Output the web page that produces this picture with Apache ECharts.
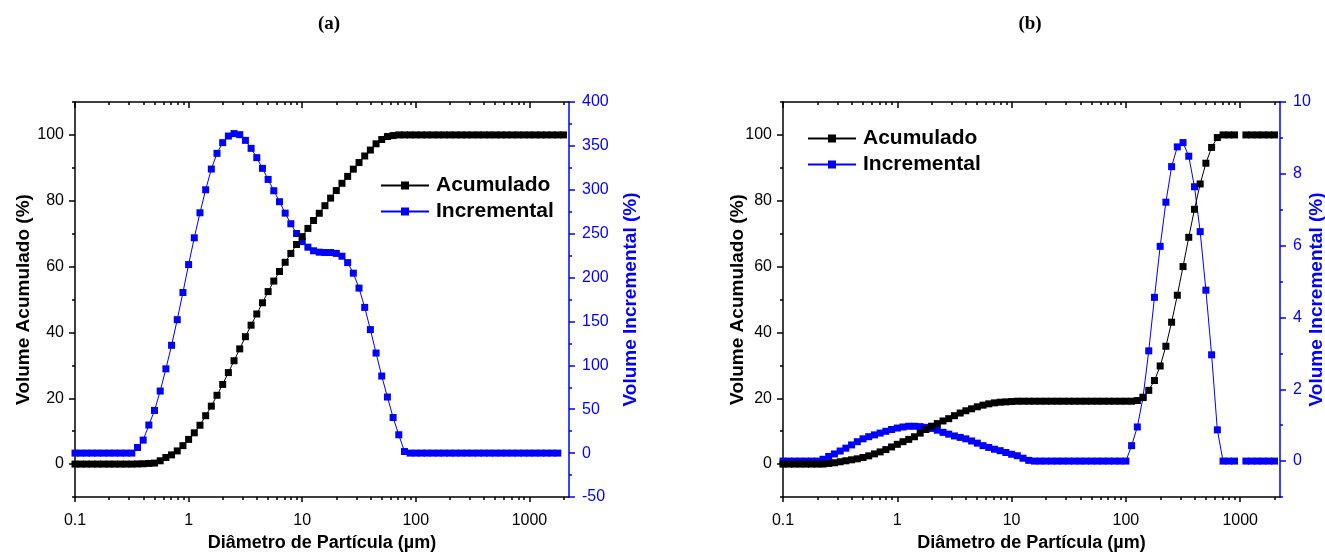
<!DOCTYPE html>
<html><head><meta charset="utf-8">
<script src="https://cdn.jsdelivr.net/npm/echarts@6/dist/echarts.min.js"></script>
<style>html,body{margin:0;padding:0;background:#fff}#c{width:1325px;height:552px}</style>
</head><body><div id="c"></div>
<script>
// particle diameters (µm), shared by both panels
const diameters = [0.1, 0.1122, 0.1259, 0.1413, 0.1585, 0.1778, 0.1995, 0.2239, 0.2512, 0.2818,
  0.3162, 0.3548, 0.3981, 0.4467, 0.5012, 0.5623, 0.6310, 0.7079, 0.7943, 0.8913,
  1.0, 1.122, 1.259, 1.413, 1.585, 1.778, 1.995, 2.239, 2.512, 2.818,
  3.162, 3.548, 3.981, 4.467, 5.012, 5.623, 6.310, 7.079, 7.943, 8.913,
  10.0, 11.22, 12.59, 14.13, 15.85, 17.78, 19.95, 22.39, 25.12, 28.18,
  31.62, 35.48, 39.81, 44.67, 50.12, 56.23, 63.10, 70.79, 79.43, 89.13,
  100.0, 112.2, 125.9, 141.3, 158.5, 177.8, 199.5, 223.9, 251.2, 281.8,
  316.2, 354.8, 398.1, 446.7, 501.2, 562.3, 631.0, 707.9, 794.3, 891.3,
  1000, 1122, 1259, 1413, 1585, 1778, 1995];

// panel (a)
const accA = [0, 0, 0, 0, 0, 0, 0, 0, 0, 0,
  0, 0.05, 0.1, 0.2, 0.3, 1.0, 2.0, 2.8, 4.0, 5.6,
  7.5, 9.5, 11.8, 14.7, 17.6, 20.9, 24.2, 27.8, 31.4, 35.0,
  38.7, 42.2, 45.6, 49.0, 52.4, 55.6, 58.5, 61.3, 64.0, 66.7,
  69.1, 71.6, 74.0, 76.2, 78.5, 80.8, 83.1, 85.3, 87.4, 89.6,
  91.6, 93.6, 95.4, 97.3, 98.6, 99.5, 99.8, 100, 100, 100,
  100, 100, 100, 100, 100, 100, 100, 100, 100, 100,
  100, 100, 100, 100, 100, 100, 100, 100, 100, 100,
  100, 100, 100, 100, 100, 100, 100];
const incA = [0, 0, 0, 0, 0, 0, 0, 0, 0, 0,
  0, 6.4, 14.8, 32, 48.6, 70.7, 96, 122.8, 152, 183,
  214.8, 245.3, 273.8, 300, 323.6, 341.5, 353.7, 361.2, 364, 362.8,
  356.3, 347.2, 336.6, 324.4, 311.8, 298.9, 286.4, 273.4, 261.3, 250.2,
  241, 234.6, 230.5, 228.9, 228.5, 228.5, 227.5, 224.3, 217, 205,
  188, 166, 140.7, 114, 87.8, 63.9, 40.6, 20.9, 1.8, 0,
  0, 0, 0, 0, 0, 0, 0, 0, 0, 0,
  0, 0, 0, 0, 0, 0, 0, 0, 0, 0,
  0, 0, 0, 0, 0, 0, null];

// panel (b)
const accB = [0, 0, 0, 0, 0, 0, 0, 0, 0.2, 0.4,
  0.7, 1.0, 1.3, 1.6, 2.0, 2.5, 3.1, 3.7, 4.4, 5.2,
  6.0, 6.8, 7.5, 8.3, 9.4, 10.5, 11.5, 12.3, 13.1, 13.8,
  14.7, 15.5, 16.2, 16.8, 17.4, 17.9, 18.3, 18.6, 18.8, 18.9,
  19.0, 19.1, 19.1, 19.1, 19.1, 19.1, 19.1, 19.1, 19.1, 19.1,
  19.1, 19.1, 19.1, 19.1, 19.1, 19.1, 19.1, 19.1, 19.1, 19.1,
  19.1, 19.1, 19.3, 20.2, 22.4, 25.4, 29.8, 35.8, 43.1, 51.3,
  60.0, 68.9, 77.4, 85.1, 91.4, 96.2, 99.2, 100, 100, 100,
  null, 100, 100, 100, 100, 100, 100];
const incB = [0, 0, 0, 0, 0, 0, 0, 0.05, 0.13, 0.2,
  0.28, 0.36, 0.45, 0.54, 0.62, 0.68, 0.73, 0.78, 0.83, 0.88,
  0.92, 0.95, 0.97, 0.97, 0.96, 0.94, 0.91, 0.86, 0.80, 0.75,
  0.70, 0.66, 0.62, 0.56, 0.50, 0.43, 0.38, 0.33, 0.29, 0.24,
  0.19, 0.15, 0.08, 0.02, 0, 0, 0, 0, 0, 0,
  0, 0, 0, 0, 0, 0, 0, 0, 0, 0,
  0, 0.43, 0.95, 1.78, 3.07, 4.56, 5.98, 7.21, 8.2, 8.75,
  8.87, 8.49, 7.64, 6.39, 4.76, 2.96, 0.87, 0, 0, 0,
  null, 0, 0, 0, 0, 0, 0];

// tick labels
const xMajor = [0.1, 1, 10, 100, 1000];
const xMinor = [0.2, 0.3, 0.4, 0.5, 0.6, 0.7, 0.8, 0.9, 2, 3, 4, 5, 6, 7, 8, 9,
  20, 30, 40, 50, 60, 70, 80, 90, 200, 300, 400, 500, 600, 700, 800, 900, 2000];
const leftMajor = [0, 20, 40, 60, 80, 100];
const leftMinor = [-10, 10, 30, 50, 70, 90, 110];
const rightAMajor = [-50, 0, 50, 100, 150, 200, 250, 300, 350, 400];
const rightAMinor = [-25, 25, 75, 125, 175, 225, 275, 325, 375];
const rightBMajor = [0, 2, 4, 6, 8, 10];
const rightBMinor = [-1, 1, 3, 5, 7, 9];

const FONT = '"Liberation Sans", Arial, sans-serif';
const BLUE = '#0000ff';
const XMAX = 2230;

function pairs(vals) { return diameters.map((d, i) => [d, vals[i]]); }

function xAxes(g) {
  const base = { gridIndex: g, type: 'log', logBase: 10, min: 0.1, max: XMAX, splitLine: { show: false }, minorTick: { show: false } };
  return [
    Object.assign({}, base, {
      position: 'bottom',
      axisLine: { show: true, onZero: false, lineStyle: { color: '#000', width: 1.5 } },
      axisTick: { show: true, customValues: xMajor, length: 5, inside: false, lineStyle: { color: '#000', width: 1.5 } },
      axisLabel: { show: true, customValues: xMajor, color: '#000', fontSize: 16, fontFamily: FONT, margin: 16,
        formatter: v => String(parseFloat(Number(v).toPrecision(4))) },
      name: 'Diâmetro de Partícula (µm)', nameLocation: 'middle', nameGap: 37, nameMoveOverlap: false,
      nameTextStyle: { color: '#000', fontSize: 18, fontWeight: 'bold', fontFamily: FONT }
    }),
    Object.assign({}, base, {
      position: 'bottom', axisLine: { show: false, onZero: false },
      axisTick: { show: true, customValues: xMinor, length: 3, lineStyle: { color: '#000', width: 1.5 } },
      axisLabel: { show: false }
    }),
    Object.assign({}, base, {
      position: 'top',
      axisLine: { show: true, onZero: false, lineStyle: { color: '#000', width: 1.5 } },
      axisTick: { show: true, customValues: xMajor, length: 6, inside: true, lineStyle: { color: '#000', width: 1.5 } },
      axisLabel: { show: false }
    }),
    Object.assign({}, base, {
      position: 'top', axisLine: { show: false, onZero: false },
      axisTick: { show: true, customValues: xMinor, length: 3, inside: true, lineStyle: { color: '#000', width: 1.5 } },
      axisLabel: { show: false }
    })
  ];
}

function yAxes(g, rMin, rMax, rMajor, rMinor, leftGap, rightGap) {
  const lbase = { gridIndex: g, type: 'value', min: -10, max: 110, position: 'left', splitLine: { show: false } };
  const rbase = { gridIndex: g, type: 'value', min: rMin, max: rMax, position: 'right', splitLine: { show: false } };
  return [
    Object.assign({}, lbase, {
      axisLine: { show: true, onZero: false, lineStyle: { color: '#000', width: 1.5 } },
      axisTick: { show: true, customValues: leftMajor, length: 6, lineStyle: { color: '#000', width: 1.5 } },
      axisLabel: { show: true, customValues: leftMajor, color: '#000', fontSize: 16, fontFamily: FONT, margin: 11 },
      name: 'Volume Acumulado (%)', nameLocation: 'middle', nameGap: leftGap, nameMoveOverlap: false,
      nameTextStyle: { color: '#000', fontSize: 19, fontWeight: 'bold', fontFamily: FONT }
    }),
    Object.assign({}, lbase, {
      axisLine: { show: false, onZero: false },
      axisTick: { show: true, customValues: leftMinor, length: 3, lineStyle: { color: '#000', width: 1.5 } },
      axisLabel: { show: false }
    }),
    Object.assign({}, rbase, {
      axisLine: { show: true, onZero: false, lineStyle: { color: BLUE, width: 1.5 } },
      axisTick: { show: true, customValues: rMajor, length: 6, lineStyle: { color: BLUE, width: 1.5 } },
      axisLabel: { show: true, customValues: rMajor, color: BLUE, fontSize: 16, fontFamily: FONT, margin: 13 },
      name: 'Volume Incremental (%)', nameLocation: 'middle', nameGap: rightGap, nameMoveOverlap: false,
      nameTextStyle: { color: BLUE, fontSize: 19, fontWeight: 'bold', fontFamily: FONT }
    }),
    Object.assign({}, rbase, {
      axisLine: { show: false, onZero: false },
      axisTick: { show: true, customValues: rMinor, length: 3, lineStyle: { color: BLUE, width: 1.5 } },
      axisLabel: { show: false }
    })
  ];
}

function seriesFor(g, acc, inc) {
  const common = { type: 'line', symbol: 'rect', symbolSize: 7, showAllSymbol: true, connectNulls: false,
    animation: false, emphasis: { disabled: true }, xAxisIndex: 4 * g };
  return [
    Object.assign({}, common, { name: 'Acumulado', yAxisIndex: 4 * g, data: pairs(acc),
      lineStyle: { color: '#000', width: 1 }, itemStyle: { color: '#000' }, z: 3 }),
    Object.assign({}, common, { name: 'Incremental', yAxisIndex: 4 * g + 2, data: pairs(inc),
      lineStyle: { color: BLUE, width: 1 }, itemStyle: { color: BLUE }, z: 2 })
  ];
}

const legendCommon = { orient: 'vertical', itemWidth: 48, itemHeight: 10, itemGap: 5, selectedMode: false,
  data: ['Acumulado', 'Incremental'],
  textStyle: { fontSize: 21, fontWeight: 'bold', fontFamily: FONT, color: '#000', lineHeight: 21, padding: [0, 0, 0, 2] } };

const option = {
  backgroundColor: '#fff',
  animation: false,
  grid: [
    { left: 75, right: 1325 - 569, top: 102, bottom: 55, containLabel: false, outerBoundsMode: 'none' },
    { left: 783, right: 1325 - 1280, top: 102, bottom: 55, containLabel: false, outerBoundsMode: 'none' }
  ],
  xAxis: xAxes(0).concat(xAxes(1)),
  yAxis: yAxes(0, -50, 400, rightAMajor, rightAMinor, 42, 52)
    .concat(yAxes(1, -1, 10, rightBMajor, rightBMinor, 36, 27)),
  legend: [
    Object.assign({}, legendCommon, { left: 375, top: 170 }),
    Object.assign({}, legendCommon, { left: 802, top: 123 })
  ],
  graphic: [
    { type: 'text', x: 329, y: 24, style: { text: '(a)', fill: '#000', font: 'bold 19px "Liberation Serif", "Times New Roman", serif', align: 'center', verticalAlign: 'middle' } },
    { type: 'text', x: 1030, y: 24, style: { text: '(b)', fill: '#000', font: 'bold 19px "Liberation Serif", "Times New Roman", serif', align: 'center', verticalAlign: 'middle' } }
  ],
  series: seriesFor(0, accA, incA).concat(seriesFor(1, accB, incB))
};

const chart = echarts.init(document.getElementById('c'), null, { renderer: 'canvas' });
chart.setOption(option);
</script>
</body></html>
